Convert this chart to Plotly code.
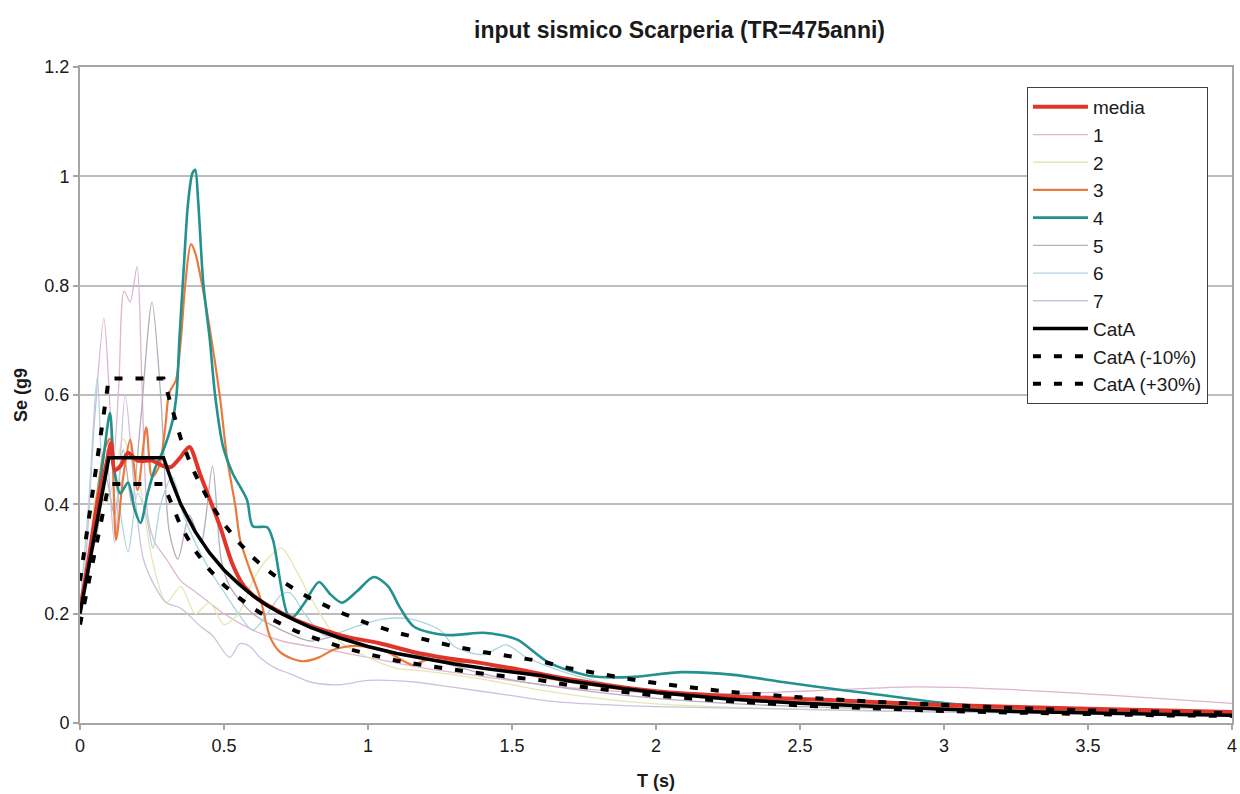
import plotly.graph_objects as go

# ---------------- data ----------------
media_T = [0, 0.03, 0.06, 0.09, 0.108, 0.12, 0.14, 0.167, 0.2, 0.25, 0.29, 0.315, 0.35, 0.38, 0.417, 0.45, 0.486, 0.53, 0.57, 0.614, 0.66, 0.705, 0.76, 0.81, 0.87, 0.93, 1.04, 1.157, 1.27, 1.39, 1.5, 1.7, 2.0, 2.3, 2.6, 3.0, 3.5, 4.0]
media_V = [0.205, 0.3, 0.4, 0.47, 0.512, 0.463, 0.47, 0.494, 0.48, 0.48, 0.47, 0.468, 0.487, 0.505, 0.455, 0.41, 0.36, 0.29, 0.25, 0.228, 0.213, 0.2, 0.186, 0.176, 0.166, 0.157, 0.146, 0.13, 0.119, 0.11, 0.1, 0.08, 0.058, 0.048, 0.042, 0.033, 0.026, 0.02]

s1_T = [0, 0.02, 0.05, 0.083, 0.1, 0.115, 0.135, 0.153, 0.174, 0.198, 0.215, 0.235, 0.26, 0.3, 0.35, 0.4, 0.45, 0.5, 0.6, 0.7, 0.8, 0.9, 1.0, 1.2, 1.4, 1.6, 1.8, 2.0, 2.2, 2.4, 2.6, 2.9, 3.2, 3.6, 4.0]
s1_V = [0.21, 0.3, 0.55, 0.74, 0.62, 0.47, 0.62, 0.79, 0.77, 0.835, 0.62, 0.38, 0.33, 0.3, 0.26, 0.24, 0.22, 0.2, 0.17, 0.15, 0.14, 0.13, 0.12, 0.1, 0.085, 0.07, 0.06, 0.055, 0.053, 0.056, 0.06, 0.066, 0.062, 0.05, 0.036]

s2_T = [0, 0.03, 0.06, 0.09, 0.12, 0.15, 0.18, 0.21, 0.25, 0.3, 0.35, 0.4, 0.45, 0.5, 0.55, 0.6, 0.65, 0.7, 0.75, 0.8, 0.9, 1.0, 1.1, 1.2, 1.4, 1.6, 1.8, 2.0, 2.5, 3.0, 3.5, 4.0]
s2_V = [0.2, 0.3, 0.42, 0.4, 0.45, 0.52, 0.48, 0.43, 0.3, 0.22, 0.25, 0.2, 0.22, 0.18, 0.2, 0.26, 0.3, 0.32, 0.28, 0.23, 0.15, 0.12, 0.1, 0.095, 0.08, 0.06, 0.045, 0.035, 0.025, 0.02, 0.018, 0.016]

s3_T = [0, 0.03, 0.06, 0.085, 0.105, 0.125, 0.15, 0.174, 0.2, 0.23, 0.25, 0.275, 0.295, 0.31, 0.333, 0.35, 0.365, 0.385, 0.4, 0.428, 0.457, 0.486, 0.51, 0.54, 0.556, 0.59, 0.625, 0.66, 0.694, 0.735, 0.775, 0.83, 0.88, 0.96, 1.065, 1.157, 1.2, 1.3, 1.39, 1.5, 1.7, 2.0, 2.5, 3.0, 3.5, 4.0]
s3_V = [0.21, 0.3, 0.42, 0.5, 0.52, 0.335, 0.45, 0.518, 0.426, 0.541, 0.45, 0.47, 0.536, 0.604, 0.627, 0.7, 0.8, 0.876, 0.86, 0.79, 0.7, 0.596, 0.487, 0.395, 0.335, 0.28, 0.23, 0.157, 0.13, 0.118, 0.113, 0.12, 0.134, 0.141, 0.13, 0.106, 0.115, 0.112, 0.11, 0.095, 0.075, 0.055, 0.038, 0.028, 0.022, 0.018]

s4_T = [0, 0.03, 0.06, 0.085, 0.104, 0.12, 0.14, 0.167, 0.19, 0.21, 0.235, 0.26, 0.29, 0.32, 0.335, 0.345, 0.36, 0.375, 0.39, 0.4, 0.41, 0.428, 0.451, 0.469, 0.497, 0.53, 0.58, 0.6, 0.65, 0.67, 0.72, 0.74, 0.78, 0.83, 0.87, 0.91, 0.96, 1.02, 1.07, 1.11, 1.16, 1.27, 1.4, 1.46, 1.52, 1.63, 1.77, 1.91, 2.09, 2.27, 2.44, 2.65, 2.73, 2.96, 3.08, 3.3, 3.6, 4.0]
s4_V = [0.21, 0.28, 0.4, 0.5, 0.567, 0.46, 0.42, 0.44, 0.39, 0.366, 0.42, 0.465, 0.5, 0.55, 0.6, 0.7, 0.83, 0.95, 1.005, 1.012, 0.957, 0.805, 0.7, 0.6, 0.505, 0.457, 0.408, 0.36, 0.358, 0.335, 0.2, 0.194, 0.22, 0.258, 0.235, 0.22, 0.24, 0.267, 0.25, 0.212, 0.176, 0.161, 0.165, 0.161, 0.152, 0.11, 0.086, 0.084, 0.093, 0.088, 0.075, 0.06, 0.055, 0.039, 0.033, 0.028, 0.024, 0.02]

s5_T = [0, 0.03, 0.06, 0.09, 0.12, 0.15, 0.18, 0.21, 0.25, 0.28, 0.31, 0.34, 0.38, 0.42, 0.46, 0.49, 0.52, 0.6, 0.7, 0.8, 0.9, 1.0, 1.2, 1.4, 1.6, 2.0, 2.5, 3.0, 3.5, 4.0]
s5_V = [0.2, 0.28, 0.35, 0.45, 0.38, 0.5, 0.4, 0.55, 0.77, 0.6, 0.35, 0.3, 0.38, 0.33, 0.47, 0.3, 0.25, 0.2, 0.17, 0.15, 0.16, 0.15, 0.12, 0.09, 0.07, 0.045, 0.03, 0.025, 0.022, 0.02]

s6_T = [0, 0.03, 0.06, 0.08, 0.1, 0.13, 0.167, 0.2, 0.23, 0.253, 0.28, 0.32, 0.36, 0.4, 0.45, 0.5, 0.55, 0.6, 0.65, 0.7, 0.73, 0.78, 0.85, 0.95, 1.05, 1.15, 1.25, 1.3, 1.4, 1.48, 1.55, 1.7, 1.85, 2.0, 2.5, 3.0, 3.5, 4.0]
s6_V = [0.21, 0.4, 0.633, 0.45, 0.5, 0.42, 0.313, 0.42, 0.38, 0.32, 0.4, 0.45, 0.38, 0.33, 0.28, 0.24, 0.2, 0.17, 0.2, 0.235, 0.238, 0.2, 0.16, 0.175, 0.19, 0.19, 0.17, 0.14, 0.125, 0.143, 0.12, 0.09, 0.07, 0.055, 0.04, 0.03, 0.025, 0.02]

s7_T = [0, 0.03, 0.06, 0.09, 0.12, 0.157, 0.19, 0.22, 0.26, 0.3, 0.35, 0.42, 0.46, 0.52, 0.555, 0.59, 0.625, 0.68, 0.73, 0.8, 0.9, 1.0, 1.16, 1.3, 1.5, 1.63, 1.8, 2.0, 2.5, 3.0, 3.5, 4.0]
s7_V = [0.2, 0.3, 0.4, 0.5, 0.33, 0.6, 0.42, 0.3, 0.25, 0.22, 0.21, 0.176, 0.16, 0.12, 0.145, 0.14, 0.12, 0.1, 0.09, 0.075, 0.07, 0.078, 0.075, 0.065, 0.05, 0.04, 0.034, 0.03, 0.025, 0.02, 0.017, 0.015]

cat_T = [0, 0.1, 0.29, 0.32, 0.35, 0.375, 0.4, 0.45, 0.5, 0.55, 0.6, 0.65, 0.7, 0.75, 0.8, 0.9, 1.0, 1.1, 1.2, 1.3, 1.4, 1.5, 1.6, 1.7, 1.8, 1.9, 2.0, 2.25, 2.5, 2.75, 3.0, 3.25, 3.5, 3.75, 4.0]
cat_V = [0.2, 0.485, 0.485, 0.44, 0.4, 0.374, 0.35, 0.311, 0.28, 0.255, 0.233, 0.215, 0.2, 0.187, 0.175, 0.156, 0.14, 0.127, 0.117, 0.108, 0.1, 0.093, 0.087, 0.077, 0.069, 0.062, 0.056, 0.044, 0.036, 0.03, 0.025, 0.021, 0.018, 0.016, 0.014]
catm10_V = [0.18, 0.437, 0.437, 0.396, 0.36, 0.337, 0.315, 0.28, 0.252, 0.23, 0.21, 0.194, 0.18, 0.168, 0.158, 0.14, 0.126, 0.114, 0.105, 0.097, 0.09, 0.084, 0.078, 0.069, 0.062, 0.056, 0.05, 0.04, 0.032, 0.027, 0.022, 0.019, 0.016, 0.014, 0.013]
catp30_V = [0.26, 0.63, 0.63, 0.572, 0.52, 0.486, 0.455, 0.404, 0.364, 0.331, 0.303, 0.28, 0.26, 0.243, 0.228, 0.203, 0.182, 0.165, 0.152, 0.14, 0.13, 0.121, 0.113, 0.1, 0.09, 0.081, 0.073, 0.057, 0.047, 0.039, 0.033, 0.027, 0.023, 0.021, 0.018]

names = ["media", "1", "2", "3", "4", "5", "6", "7"]
colors = ["#e0352b", "#dcb6d2", "#e6e6b4", "#e87a3e", "#23918d", "#b6aebb", "#acd6de", "#cbc3dc"]
widths = [4, 1.3, 1.3, 2.2, 2.6, 1.3, 1.3, 1.3]
series_T = [media_T, s1_T, s2_T, s3_T, s4_T, s5_T, s6_T, s7_T]
series_V = [media_V, s1_V, s2_V, s3_V, s4_V, s5_V, s6_V, s7_V]

fig = go.Figure()
order_draw = [1, 2, 5, 6, 7, 3, 4, 0]
traces = {}
for i in range(8):
    traces[i] = go.Scatter(x=series_T[i], y=series_V[i], mode="lines", name=names[i],
                           line=dict(color=colors[i], width=widths[i], shape="spline", smoothing=0.8),
                           legendrank=i + 1, legendgroup="g%d" % i)
for i in order_draw:
    fig.add_trace(traces[i])

dash_pat = "8px,13px"
fig.add_trace(go.Scatter(x=cat_T, y=cat_V, mode="lines", name="CatA",
                         line=dict(color="black", width=3.5), legendrank=9, legendgroup="c0"))
fig.add_trace(go.Scatter(x=cat_T, y=catm10_V, mode="lines", name="CatA (-10%)",
                         line=dict(color="black", width=4, dash=dash_pat), legendrank=10, legendgroup="c1"))
fig.add_trace(go.Scatter(x=cat_T, y=catp30_V, mode="lines", name="CatA (+30%)",
                         line=dict(color="black", width=4, dash=dash_pat), legendrank=11, legendgroup="c2"))

font_family = "Arial, Liberation Sans, sans-serif"
fig.update_layout(
    width=1240, height=794,
    margin=dict(l=80, r=8, t=67, b=71),
    paper_bgcolor="white", plot_bgcolor="white",
    font=dict(family=font_family, size=18, color="#1a1a1a"),
    title=dict(text="<b>input sismico Scarperia (TR=475anni)</b>", x=0.548, xanchor="center",
               y=0.9622, yanchor="middle", yref="container", font=dict(size=23, color="#1a1a1a")),
    xaxis=dict(range=[0, 4.0001], dtick=0.5, tick0=0, showgrid=False, zeroline=False,
               showline=True, linecolor="#a6a6a6", linewidth=2, mirror=True,
               ticks="outside", ticklen=5, tickcolor="#a6a6a6", tickwidth=1.5,
               tickfont=dict(size=18), automargin=False, ticklabeloverflow="allow",
               title=dict(text="<b>T (s)</b>", standoff=20, font=dict(size=18))),
    yaxis=dict(range=[0, 1.2], dtick=0.2, tick0=0, showgrid=True, gridcolor="#bdbdbd", gridwidth=2,
               zeroline=False, showline=True, linecolor="#a6a6a6", linewidth=2, mirror=True,
               ticks="outside", ticklen=5, tickcolor="#a6a6a6", tickwidth=1.5,
               tickfont=dict(size=18), automargin=False,
               title=dict(text="<b>Se (g9</b>", standoff=12, font=dict(size=18))),
    legend=dict(x=0.822, y=0.9695, xanchor="left", yanchor="top",
                bgcolor="white", bordercolor="#404040", borderwidth=1,
                font=dict(size=19), traceorder="normal", tracegroupgap=4, itemwidth=55),
    showlegend=True,
)

fig.write_html("out.html", config={"displayModeBar": False},
               post_script="document.body.style.margin='0';document.body.style.overflow='hidden';")
